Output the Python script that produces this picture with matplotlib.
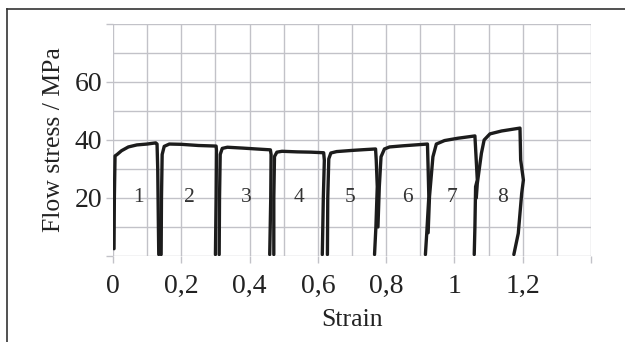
import matplotlib.pyplot as plt
from matplotlib.lines import Line2D

# strain / stress points of the 8 passes
s1_x = [0.003, 0.004, 0.006, 0.012, 0.025, 0.045, 0.070, 0.100, 0.125, 0.129, 0.131, 0.133, 0.134]
s1_y = [2.5, 20, 34.5, 35.0, 36.3, 37.6, 38.3, 38.6, 39.0, 38.6, 30, 10, 0.5]
s2_x = [0.141, 0.142, 0.144, 0.150, 0.165, 0.200, 0.250, 0.302, 0.303, 0.302, 0.300]
s2_y = [0.5, 20, 35.0, 37.8, 38.6, 38.5, 38.1, 37.9, 36.5, 20, 0.5]
s3_x = [0.311, 0.312, 0.314, 0.320, 0.335, 0.380, 0.420, 0.461, 0.463, 0.462, 0.459]
s3_y = [0.5, 20, 35.0, 37.1, 37.5, 37.2, 36.9, 36.6, 35.0, 20, 0.5]
s4_x = [0.471, 0.471, 0.473, 0.480, 0.495, 0.540, 0.580, 0.617, 0.619, 0.616, 0.613]
s4_y = [0.5, 20, 34.3, 35.8, 36.1, 35.9, 35.8, 35.6, 33.0, 20, 0.5]
s5_x = [0.628, 0.629, 0.632, 0.638, 0.655, 0.700, 0.740, 0.769, 0.771, 0.774, 0.770, 0.766]
s5_y = [0.5, 20, 33.5, 35.5, 36.0, 36.4, 36.7, 36.9, 33.0, 23.9, 10, 0.5]
s6_x = [0.776, 0.780, 0.785, 0.795, 0.810, 0.850, 0.921, 0.923, 0.925, 0.919, 0.915]
s6_y = [10, 23.9, 34.2, 36.9, 37.6, 38.0, 38.6, 30.0, 20.5, 8, 0.5]
s7_x = [0.923, 0.927, 0.937, 0.947, 0.971, 1.010, 1.060, 1.067, 1.062, 1.060, 1.058]
s7_y = [8, 20.5, 34.2, 38.6, 39.8, 40.6, 41.4, 26.2, 23.9, 10, 0.5]
s8_x = [1.064, 1.067, 1.079, 1.087, 1.104, 1.138, 1.192, 1.194, 1.202, 1.197, 1.187, 1.174]
s8_y = [20, 25.0, 35.4, 40.0, 42.1, 43.1, 44.1, 33.1, 26.2, 21.6, 7.8, 0.5]

pass_labels = ["1", "2", "3", "4", "5", "6", "7", "8"]
label_x = [0.076, 0.224, 0.391, 0.544, 0.694, 0.862, 0.994, 1.141]
label_y = 20

segments = [(s1_x, s1_y), (s2_x, s2_y), (s3_x, s3_y), (s4_x, s4_y),
            (s5_x, s5_y), (s6_x, s6_y), (s7_x, s7_y), (s8_x, s8_y)]

plt.rcParams["font.family"] = ["Liberation Serif", "DejaVu Serif"]
grid_col = "#c2c2c8"

fig = plt.figure(figsize=(6.25, 3.42), dpi=100)
ax = fig.add_axes([0.1808, 0.2515, 0.7648, 0.6784])

for sx, sy in segments:
    ax.plot(sx, sy, color="#1c1c1c", lw=2.4, solid_joinstyle="round",
            solid_capstyle="round", zorder=3)

for t, lx in zip(pass_labels, label_x):
    ax.text(lx, label_y, t, ha="center", va="center", fontsize=15.5, color="#333333")

ax.set_xlim(0, 1.4)
ax.set_ylim(0, 80)
ax.set_xticks([0, 0.2, 0.4, 0.6, 0.8, 1.0, 1.2, 1.4])
ax.set_xticklabels(["0", "0,2", "0,4", "0,6", "0,8", "1", "1,2", ""])
ax.set_xticks([0.1, 0.3, 0.5, 0.7, 0.9, 1.1, 1.3], minor=True)
ax.set_yticks([0, 20, 40, 60, 80])
ax.set_yticklabels(["", "20", "40", "60", ""])
ax.set_yticks([10, 30, 50, 70], minor=True)
ax.grid(True, which="both", color=grid_col, lw=1.0)
ax.set_axisbelow(True)
for sp in ax.spines.values():
    sp.set_visible(False)
ax.tick_params(which="major", length=5, width=1.0, color=grid_col,
               labelsize=20, labelcolor="#222222")
ax.tick_params(which="minor", length=0)
ax.tick_params(axis="x", pad=8)
ax.tick_params(axis="y", pad=3)

ax.set_xlabel("Strain", fontsize=18.5, color="#222222", labelpad=7)
ax.set_ylabel("Flow stress / MPa", fontsize=18.5, color="#222222", labelpad=7)

# outer frame (top and left edges are visible)
fig.add_artist(Line2D([7 / 625, 1], [1 - 9 / 342, 1 - 9 / 342], color="#333333", lw=1.2))
fig.add_artist(Line2D([7 / 625, 7 / 625], [0, 1 - 9 / 342], color="#333333", lw=1.2))

fig.savefig("out.png", dpi=100)
